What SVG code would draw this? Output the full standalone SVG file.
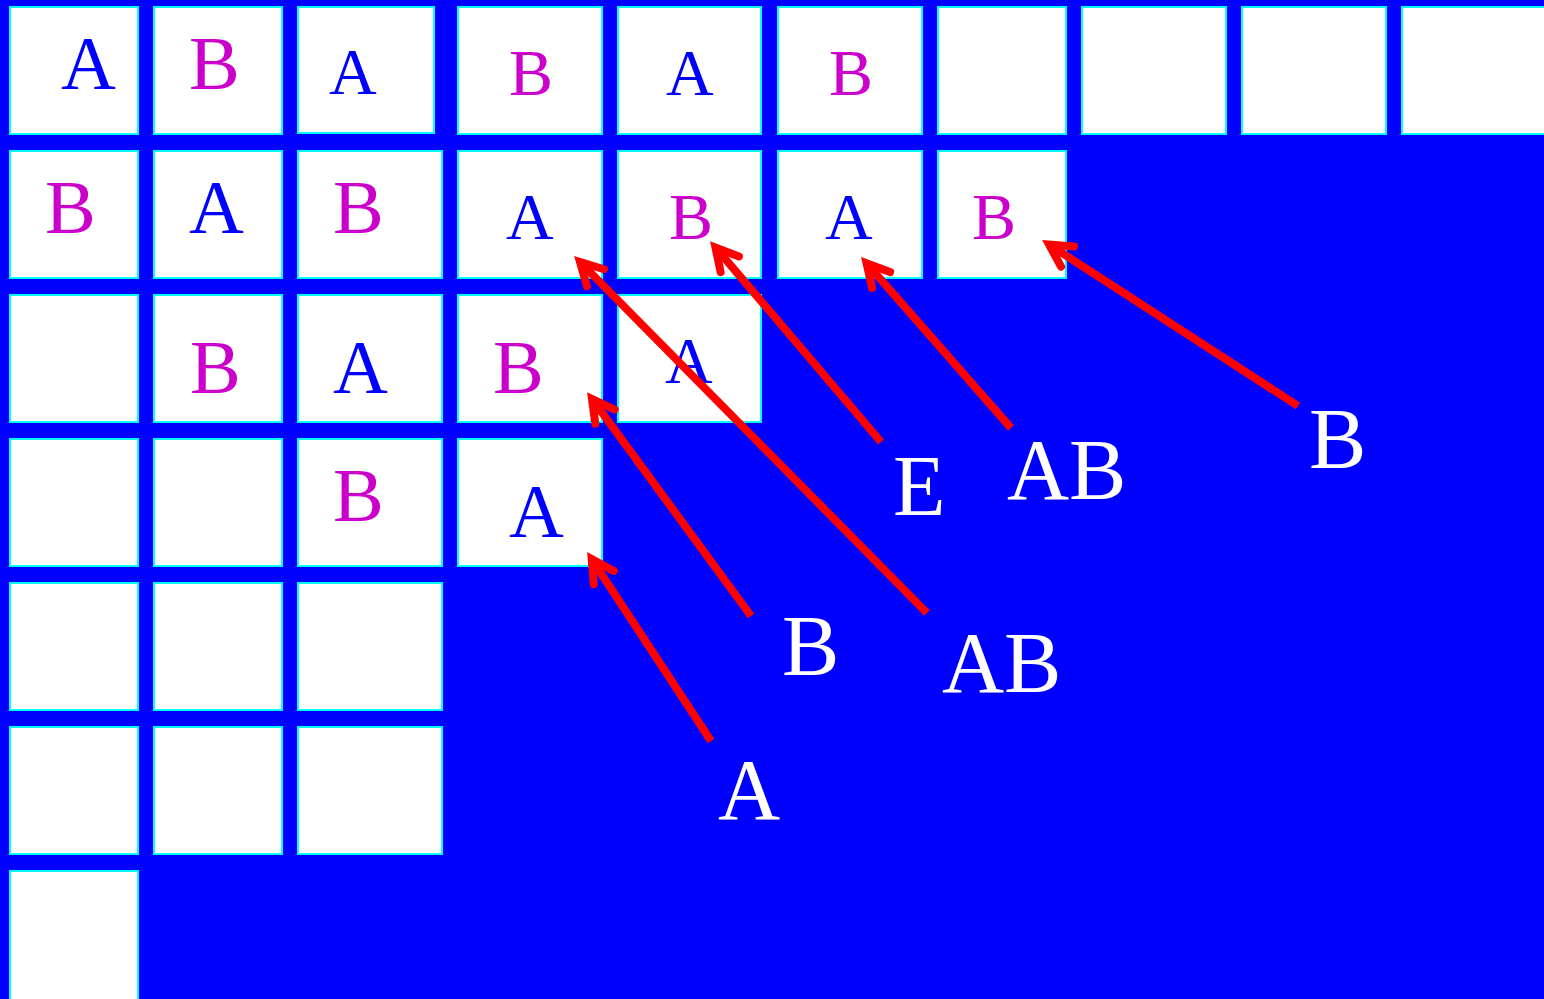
<svg xmlns="http://www.w3.org/2000/svg" width="1544" height="999" viewBox="0 0 1544 999">
<style>
.c{fill:#ffffff;stroke:#00ffff;stroke-width:2}
.t{font-family:"Liberation Serif","Times New Roman",serif}
.L{font-size:76px}
.M{font-size:66px}
.a{fill:#0000ff}
.b{fill:#cc00cc}
.w{fill:#ffffff;font-size:86px}
.ar{fill:none;stroke:#ff0000;stroke-width:8;stroke-linecap:butt}
</style>
<defs>
<marker id="ah" markerUnits="userSpaceOnUse" orient="auto" markerWidth="80" markerHeight="80" viewBox="-40 -40 80 80" refX="0" refY="0" overflow="visible">
<path d="M-22,-12 L0,0 L-22,12" fill="none" stroke="#ff0000" stroke-width="8" stroke-linecap="round" stroke-linejoin="miter"/>
</marker>
</defs>
<rect x="0" y="0" width="1544" height="999" fill="#0000ff"/>
<g id="row0">
<g id="r0c0"><rect class="c" x="10" y="7" width="128" height="127"/><text class="t L a" x="61" y="89">A</text></g>
<g id="r0c1"><rect class="c" x="154" y="7" width="128" height="127"/><text class="t L b" x="189" y="89">B</text></g>
<g id="r0c2"><rect class="c" x="298" y="7" width="136" height="126"/><text class="t M a" x="329" y="94">A</text></g>
<g id="r0c3"><rect class="c" x="458" y="7" width="144" height="127"/><text class="t M b" x="509" y="95">B</text></g>
<g id="r0c4"><rect class="c" x="618" y="7" width="143" height="127"/><text class="t M a" x="666" y="95">A</text></g>
<g id="r0c5"><rect class="c" x="778" y="7" width="144" height="127"/><text class="t M b" x="829" y="95">B</text></g>
<g id="r0c6"><rect class="c" x="938" y="7" width="128" height="127"/></g>
<g id="r0c7"><rect class="c" x="1082" y="7" width="144" height="127"/></g>
<g id="r0c8"><rect class="c" x="1242" y="7" width="144" height="127"/></g>
<g id="r0c9"><rect class="c" x="1402" y="7" width="160" height="127"/></g>
</g>
<g id="row1">
<g id="r1c0"><rect class="c" x="10" y="151" width="128" height="127"/><text class="t L b" x="45" y="233">B</text></g>
<g id="r1c1"><rect class="c" x="154" y="151" width="128" height="127"/><text class="t L a" x="189" y="233">A</text></g>
<g id="r1c2"><rect class="c" x="298" y="151" width="144" height="127"/><text class="t L b" x="333" y="233">B</text></g>
<g id="r1c3"><rect class="c" x="458" y="151" width="144" height="127"/><text class="t M a" x="506" y="239">A</text></g>
<g id="r1c4"><rect class="c" x="618" y="151" width="143" height="127"/><text class="t M b" x="669" y="239">B</text></g>
<g id="r1c5"><rect class="c" x="778" y="151" width="144" height="127"/><text class="t M a" x="825" y="239">A</text></g>
<g id="r1c6"><rect class="c" x="938" y="151" width="128" height="127"/><text class="t M b" x="972" y="239">B</text></g>
</g>
<g id="row2">
<g id="r2c0"><rect class="c" x="10" y="295" width="128" height="127"/></g>
<g id="r2c1"><rect class="c" x="154" y="295" width="128" height="127"/><text class="t L b" x="190" y="393">B</text></g>
<g id="r2c2"><rect class="c" x="298" y="295" width="144" height="127"/><text class="t L a" x="333" y="393">A</text></g>
<g id="r2c3"><rect class="c" x="458" y="295" width="144" height="127"/><text class="t L b" x="493" y="393">B</text></g>
<g id="r2c4"><rect class="c" x="618" y="295" width="143" height="127"/><text class="t M a" x="665" y="383">A</text></g>
</g>
<g id="row3">
<g id="r3c0"><rect class="c" x="10" y="439" width="128" height="127"/></g>
<g id="r3c1"><rect class="c" x="154" y="439" width="128" height="127"/></g>
<g id="r3c2"><rect class="c" x="298" y="439" width="144" height="127"/><text class="t L b" x="333" y="521">B</text></g>
<g id="r3c3"><rect class="c" x="458" y="439" width="144" height="127"/><text class="t L a" x="509" y="537">A</text></g>
</g>
<g id="row4">
<g id="r4c0"><rect class="c" x="10" y="583" width="128" height="127"/></g>
<g id="r4c1"><rect class="c" x="154" y="583" width="128" height="127"/></g>
<g id="r4c2"><rect class="c" x="298" y="583" width="144" height="127"/></g>
</g>
<g id="row5">
<g id="r5c0"><rect class="c" x="10" y="727" width="128" height="127"/></g>
<g id="r5c1"><rect class="c" x="154" y="727" width="128" height="127"/></g>
<g id="r5c2"><rect class="c" x="298" y="727" width="144" height="127"/></g>
</g>
<g id="row6">
<g id="r6c0"><rect class="c" x="10" y="871" width="128" height="140"/></g>
</g>
<g id="connectors">
<line class="ar" x1="711" y1="741" x2="591.7" y2="559.1" marker-end="url(#ah)"/>
<line class="ar" x1="751" y1="616" x2="592.0" y2="398.9" marker-end="url(#ah)"/>
<line class="ar" x1="927" y1="613" x2="580.0" y2="262.0" marker-end="url(#ah)"/>
<line class="ar" x1="881" y1="442" x2="715.5" y2="247.5" marker-end="url(#ah)"/>
<line class="ar" x1="1011" y1="428" x2="866.6" y2="263.4" marker-end="url(#ah)"/>
<line class="ar" x1="1298" y1="406" x2="1049.1" y2="244.6" marker-end="url(#ah)"/>
</g>
<g id="labels">
<g id="lblA"><text class="t w" x="718" y="819">A</text></g>
<g id="lblB1"><text class="t w" x="782" y="675">B</text></g>
<g id="lblAB1"><text class="t w" x="942" y="692">AB</text></g>
<g id="lblE"><text class="t w" x="893" y="515">E</text></g>
<g id="lblAB2"><text class="t w" x="1007" y="499">AB</text></g>
<g id="lblB2"><text class="t w" x="1309" y="468">B</text></g>
</g>
</svg>
